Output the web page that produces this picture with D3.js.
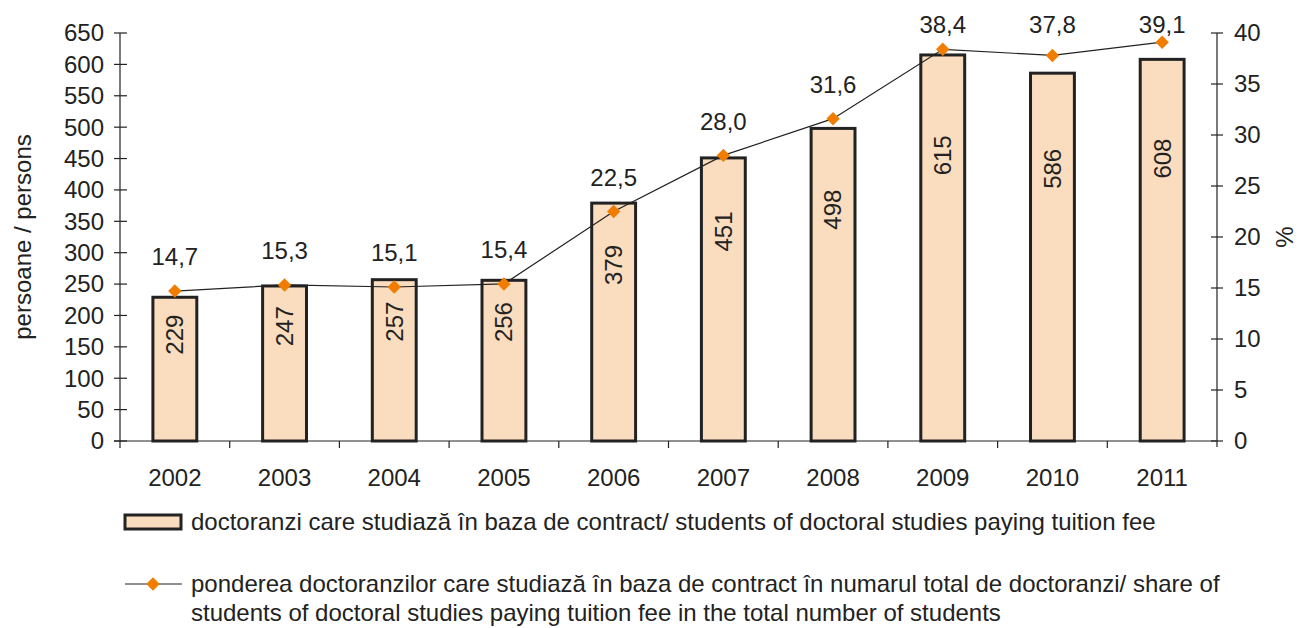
<!DOCTYPE html>
<html><head><meta charset="utf-8">
<script src="https://cdn.jsdelivr.net/npm/d3@7"></script>
<style>body{margin:0;background:#fff}svg{display:block}text{font-family:"Liberation Sans",Arial,sans-serif;fill:#222}</style>
</head><body>
<script>
const years = ["2002","2003","2004","2005","2006","2007","2008","2009","2010","2011"];
const students = [229,247,257,256,379,451,498,615,586,608];
const share = [14.7,15.3,15.1,15.4,22.5,28.0,31.6,38.4,37.8,39.1];
const leftTicks = [0,50,100,150,200,250,300,350,400,450,500,550,600,650];
const rightTicks = [0,5,10,15,20,25,30,35,40];
const barLegend = "doctoranzi care studiază în baza de contract/ students of doctoral studies paying tuition fee";
const lineLegend = ["ponderea doctoranzilor care studiază în baza de contract în numarul total de doctoranzi/ share of","students of doctoral studies paying tuition fee in the total number of students"];

const W=1299,H=628;
const svg=d3.select("body").append("svg").attr("width",W).attr("height",H);
const L=120,R=1217,T=33,B=441;
const x=d3.scaleBand().domain(years).range([L,R]).paddingInner(0.6).paddingOuter(0.3);
const xb=d3.scaleBand().domain(years).range([L,R]);
const y=d3.scaleLinear().domain([0,650]).range([B,T]);
const y2=d3.scaleLinear().domain([0,40]).range([B,T]);
const fs=24;
const ink="#222";

// bars
svg.selectAll("rect.bar").data(students).join("rect").attr("class","bar")
 .attr("x",(d,i)=>x(years[i])).attr("width",x.bandwidth())
 .attr("y",d=>y(d)).attr("height",d=>B-y(d))
 .attr("fill","#fadcbe").attr("stroke",ink).attr("stroke-width",3);

// bar labels
svg.selectAll("text.bl").data(students).join("text").attr("class","bl")
 .attr("transform",(d,i)=>`translate(${x(years[i])+x.bandwidth()/2},${B-(B-y(d))*0.74}) rotate(-90)`)
 .attr("text-anchor","middle").attr("dy","0.35em").attr("font-size",fs).text(d=>d);

// axes
const gl=svg.append("g");
gl.append("line").attr("x1",L).attr("x2",L).attr("y1",T).attr("y2",B).attr("stroke",ink).attr("stroke-width",1.2);
leftTicks.forEach(t=>{
 gl.append("line").attr("x1",L-6).attr("x2",L+7).attr("y1",y(t)).attr("y2",y(t)).attr("stroke",ink).attr("stroke-width",1.2);
 gl.append("text").attr("x",L-16).attr("y",y(t)).attr("dy","0.35em").attr("text-anchor","end").attr("font-size",fs).text(t);
});
const gr=svg.append("g");
gr.append("line").attr("x1",R).attr("x2",R).attr("y1",T).attr("y2",B+6).attr("stroke",ink).attr("stroke-width",1.2);
rightTicks.forEach(t=>{
 gr.append("line").attr("x1",R-6).attr("x2",R+6).attr("y1",y2(t)).attr("y2",y2(t)).attr("stroke",ink).attr("stroke-width",1.2);
 gr.append("text").attr("x",R+17).attr("y",y2(t)).attr("dy","0.35em").attr("text-anchor","start").attr("font-size",fs).text(t);
});
const gx=svg.append("g");
gx.append("line").attr("x1",L-6).attr("x2",R).attr("y1",B).attr("y2",B).attr("stroke",ink).attr("stroke-width",1.2);
years.forEach((yr,i)=>{
 gx.append("line").attr("x1",xb(yr)).attr("x2",xb(yr)).attr("y1",B).attr("y2",B+7).attr("stroke",ink).attr("stroke-width",1.2);
 gx.append("text").attr("x",xb(yr)+xb.bandwidth()/2).attr("y",478).attr("dy","0.35em").attr("text-anchor","middle").attr("font-size",fs).text(yr);
});

svg.append("text").attr("transform",`translate(23,237) rotate(-90)`).attr("text-anchor","middle").attr("dy","0.35em").attr("font-size",fs).text("persoane / persons");
svg.append("text").attr("transform",`translate(1285,237) rotate(-90)`).attr("text-anchor","middle").attr("dy","0.35em").attr("font-size",fs).text("%");

// line
const cx=i=>x(years[i])+x.bandwidth()/2;
svg.append("path").datum(share).attr("d",d3.line().x((d,i)=>cx(i)).y(d=>y2(d)))
 .attr("fill","none").attr("stroke",ink).attr("stroke-width",1.2);
const diamond=d3.symbol().type(d3.symbolSquare).size(90);
svg.selectAll("path.mk").data(share).join("path").attr("class","mk")
 .attr("transform",(d,i)=>`translate(${cx(i)},${y2(d)}) rotate(45)`).attr("d",diamond).attr("fill","#f07d00");
const fmt=d=>d3.format(".1f")(d).replace(".",",");
svg.selectAll("text.ll").data(share).join("text").attr("class","ll")
 .attr("x",(d,i)=>cx(i)).attr("y",d=>Math.max(y2(d)-34,25)).attr("dy","0.35em").attr("text-anchor","middle").attr("font-size",fs).text(fmt);

// legend
svg.append("rect").attr("x",125).attr("y",515).attr("width",56).attr("height",14).attr("fill","#fadcbe").attr("stroke",ink).attr("stroke-width",3);
svg.append("text").attr("x",191).attr("y",522).attr("dy","0.35em").attr("font-size",fs).text(barLegend);
svg.append("line").attr("x1",125).attr("x2",182).attr("y1",584).attr("y2",584).attr("stroke",ink).attr("stroke-width",1.2);
svg.append("path").attr("transform","translate(153,584) rotate(45)").attr("d",diamond).attr("fill","#f07d00");
lineLegend.forEach((t,i)=>svg.append("text").attr("x",191).attr("y",584+i*29).attr("dy","0.35em").attr("font-size",fs).text(t));
</script>
</body></html>
